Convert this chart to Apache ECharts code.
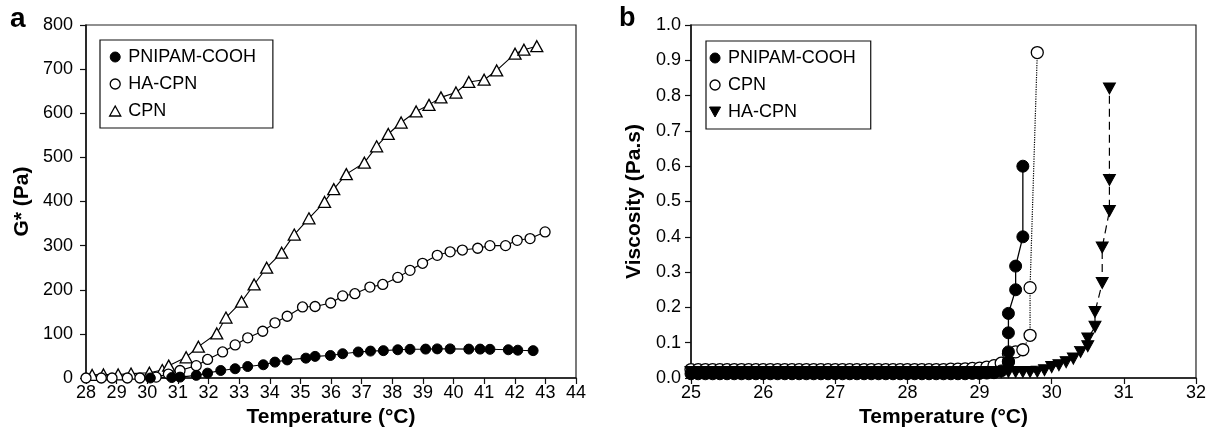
<!DOCTYPE html>
<html>
<head>
<meta charset="utf-8">
<script src="https://cdn.jsdelivr.net/npm/echarts@6/dist/echarts.min.js"></script>
<style>
  html, body { margin: 0; padding: 0; background: #fff; }
  #chart { width: 1209px; height: 438px; }
</style>
</head>
<body>
<div id="chart"></div>
<script>
// ---- panel a : G* vs temperature ----
var pnipamA_T = [30.1, 30.8, 31.07, 31.6, 31.97, 32.4, 32.87, 33.28, 33.79, 34.17, 34.57, 35.18, 35.48, 35.98, 36.38, 36.89, 37.29, 37.71, 38.18, 38.58, 39.09, 39.47, 39.89, 40.5, 40.87, 41.19, 41.79, 42.1, 42.6];
var pnipamA_G = [0, 1, 2, 6, 11, 17, 21, 26, 30, 36, 41, 45, 49, 51, 55, 59, 61, 62, 64, 65, 65.5, 66, 66, 65.5, 65.5, 65, 64, 63, 62];

var haA_T = [28.0, 28.5, 28.85, 29.35, 29.76, 30.29, 30.69, 31.07, 31.6, 31.97, 32.46, 32.87, 33.28, 33.77, 34.17, 34.57, 35.07, 35.48, 35.99, 36.38, 36.78, 37.27, 37.69, 38.18, 38.58, 38.99, 39.47, 39.89, 40.29, 40.79, 41.19, 41.7, 42.08, 42.5, 42.99];
var haA_G = [0, 0, 0, 0, 0, 2, 9, 17, 28, 42, 59, 75, 91, 106, 125, 140, 161, 162, 170, 186, 191, 206, 212, 228, 244, 260, 278, 286, 290, 294, 300, 300, 312, 316, 331];

var cpnA_T = [28.2, 28.57, 29.05, 29.47, 30.07, 30.49, 30.7, 31.27, 31.67, 32.27, 32.57, 33.08, 33.49, 33.9, 34.39, 34.8, 35.28, 35.79, 36.09, 36.5, 37.09, 37.49, 37.87, 38.29, 38.78, 39.2, 39.59, 40.08, 40.5, 41.0, 41.41, 42.01, 42.3, 42.72];
var cpnA_G = [7, 8, 8, 10, 12, 18, 28, 47, 71, 101, 137, 173, 212, 250, 284, 325, 362, 399, 428, 462, 488, 525, 553, 579, 604, 619, 636, 647, 671, 676, 697, 735, 744, 752];

// ---- panel b : viscosity vs temperature ----
var pnipamB_T = [25.0, 25.1, 25.2, 25.3, 25.4, 25.5, 25.6, 25.7, 25.8, 25.9,
                 26.0, 26.1, 26.2, 26.3, 26.4, 26.5, 26.6, 26.7, 26.8, 26.9,
                 27.0, 27.1, 27.2, 27.3, 27.4, 27.5, 27.6, 27.7, 27.8, 27.9,
                 28.0, 28.1, 28.2, 28.3, 28.4, 28.5, 28.6, 28.7, 28.8, 28.9,
                 29.0, 29.1, 29.2, 29.3, 29.4, 29.4, 29.4, 29.4, 29.5, 29.5, 29.6, 29.6];
var pnipamB_V = [0.012, 0.012, 0.012, 0.012, 0.012, 0.012, 0.012, 0.012, 0.012, 0.012,
                 0.012, 0.012, 0.012, 0.012, 0.012, 0.012, 0.012, 0.012, 0.012, 0.012,
                 0.012, 0.012, 0.012, 0.012, 0.012, 0.012, 0.012, 0.012, 0.012, 0.012,
                 0.012, 0.012, 0.012, 0.012, 0.012, 0.012, 0.012, 0.012, 0.012, 0.013,
                 0.013, 0.014, 0.015, 0.02, 0.045, 0.074, 0.128, 0.183, 0.25, 0.317, 0.40, 0.60];

var cpnB_T = [25.0, 25.1, 25.2, 25.3, 25.4, 25.5, 25.6, 25.7, 25.8, 25.9,
              26.0, 26.1, 26.2, 26.3, 26.4, 26.5, 26.6, 26.7, 26.8, 26.9,
              27.0, 27.1, 27.2, 27.3, 27.4, 27.5, 27.6, 27.7, 27.8, 27.9,
              28.0, 28.1, 28.2, 28.3, 28.4, 28.5, 28.6, 28.7, 28.8, 28.9,
              29.0, 29.1, 29.2, 29.3, 29.4, 29.4, 29.5, 29.6, 29.7, 29.7, 29.8];
var cpnB_V = [0.024, 0.024, 0.024, 0.024, 0.024, 0.024, 0.024, 0.024, 0.024, 0.024,
              0.024, 0.024, 0.024, 0.024, 0.024, 0.024, 0.024, 0.024, 0.024, 0.024,
              0.024, 0.024, 0.024, 0.024, 0.024, 0.024, 0.024, 0.024, 0.024, 0.024,
              0.024, 0.024, 0.024, 0.024, 0.024, 0.024, 0.025, 0.025, 0.026, 0.027,
              0.028, 0.031, 0.035, 0.042, 0.047, 0.069, 0.074, 0.080, 0.121, 0.256, 0.922];

var haB_T = [25.0, 25.1, 25.2, 25.3, 25.4, 25.5, 25.6, 25.7, 25.8, 25.9,
             26.0, 26.1, 26.2, 26.3, 26.4, 26.5, 26.6, 26.7, 26.8, 26.9,
             27.0, 27.1, 27.2, 27.3, 27.4, 27.5, 27.6, 27.7, 27.8, 27.9,
             28.0, 28.1, 28.2, 28.3, 28.4, 28.5, 28.6, 28.7, 28.8, 28.9,
             29.0, 29.1, 29.2, 29.3, 29.4, 29.5, 29.6, 29.7, 29.8, 29.9,
             30.0, 30.1, 30.2, 30.3, 30.4, 30.5, 30.5, 30.6, 30.6, 30.7, 30.7, 30.8, 30.8, 30.8];
var haB_V = [0.017, 0.017, 0.017, 0.017, 0.017, 0.017, 0.017, 0.017, 0.017, 0.017,
             0.017, 0.017, 0.017, 0.017, 0.017, 0.017, 0.017, 0.017, 0.017, 0.017,
             0.017, 0.017, 0.017, 0.017, 0.017, 0.017, 0.017, 0.017, 0.017, 0.017,
             0.017, 0.017, 0.017, 0.017, 0.017, 0.017, 0.017, 0.017, 0.017, 0.017,
             0.017, 0.017, 0.017, 0.017, 0.017, 0.017, 0.017, 0.017, 0.018, 0.022,
             0.031, 0.036, 0.045, 0.055, 0.074, 0.09, 0.112, 0.145, 0.187, 0.269, 0.37, 0.473, 0.561, 0.82];

var FONT = 'Liberation Sans, Arial, sans-serif';
var TRI_UP = 'path://M5,0 L10,9 L0,9 Z';
var TRI_DOWN = 'path://M0,0 L10,0 L5,9 Z';

function zip(xs, ys) {
    var out = [];
    for (var i = 0; i < xs.length; i++) {
        out.push([xs[i], ys[i]]);
    }
    return out;
}

function xAxisOf(grid, min, max, labelMargin) {
    return {
        type: 'value', gridIndex: grid, min: min, max: max, interval: 1,
        name: 'Temperature (°C)', nameLocation: 'middle', nameGap: 17,
        nameTextStyle: { fontFamily: FONT, fontSize: 21, fontWeight: 'bold', color: '#000' },
        axisLine: { onZero: false, lineStyle: { color: '#111', width: 1.5 } },
        axisTick: { inside: false, length: 6, lineStyle: { color: '#111', width: 1.2 } },
        axisLabel: { margin: labelMargin, fontFamily: FONT, fontSize: 18, color: '#000' },
        splitLine: { show: false }
    };
}

function yAxisOf(grid, max, interval, title, gap, labelMargin, fmt) {
    return {
        type: 'value', gridIndex: grid, min: 0, max: max, interval: interval,
        name: title, nameLocation: 'middle', nameGap: gap, nameRotate: 90,
        nameTextStyle: { fontFamily: FONT, fontSize: 21, fontWeight: 'bold', color: '#000' },
        axisLine: { show: true, onZero: false, lineStyle: { color: '#111', width: 1.5 } },
        axisTick: { show: true, inside: false, length: 6, lineStyle: { color: '#111', width: 1.2 } },
        axisLabel: { margin: labelMargin, fontFamily: FONT, fontSize: 18, color: '#000', formatter: fmt },
        splitLine: { show: false }
    };
}

function legendOf(left, top, pad, items) {
    return {
        left: left, top: top, orient: 'vertical', padding: pad,
        itemGap: 9, itemWidth: 16, itemHeight: 10,
        borderColor: '#111', borderWidth: 1.2, backgroundColor: '#fff',
        selectedMode: false, symbolRotate: 0,
        textStyle: { fontFamily: FONT, fontSize: 18, lineHeight: 18, color: '#000' },
        data: items
    };
}

var filled = { color: '#000', borderColor: '#000', borderWidth: 1 };
var open = { color: '#fff', borderColor: '#000', borderWidth: 1.3 };

var chart = echarts.init(document.getElementById('chart'), null, { renderer: 'canvas' });

chart.setOption({
    animation: false,
    backgroundColor: '#fff',
    title: [
        { text: 'a', left: 10, top: 5, padding: 0, textStyle: { fontFamily: FONT, fontSize: 28, fontWeight: 'bold', color: '#000' } },
        { text: 'b', left: 619, top: 5, padding: 0, textStyle: { fontFamily: FONT, fontSize: 27, fontWeight: 'bold', color: '#000' } }
    ],
    grid: [
        { left: 86, top: 25, width: 490, height: 353, show: true, borderColor: '#222', borderWidth: 1.2 },
        { left: 691, top: 25, width: 508, height: 353, show: true, borderColor: '#222', borderWidth: 1.2 }
    ],
    xAxis: [xAxisOf(0, 28, 44, 6), xAxisOf(1, 25, 32, 6)],
    yAxis: [
        yAxisOf(0, 800, 100, 'G* (Pa)', 53, 13, null),
        yAxisOf(1, 1.0, 0.1, 'Viscosity (Pa.s)', 46, 10, function (v) { return v.toFixed(1); })
    ],
    legend: [
        legendOf(100, 40, [8, 17, 8, 9], [
            { name: 'PNIPAM-COOH', icon: 'circle', itemStyle: filled },
            { name: 'HA-CPN', icon: 'circle', itemStyle: open },
            { name: 'CPN', icon: TRI_UP, itemStyle: open }
        ]),
        legendOf(706, 41, [8, 15, 8, 3], [
            { name: 'PNIPAM-COOH', icon: 'circle', itemStyle: filled },
            { name: 'CPN', icon: 'circle', itemStyle: open },
            { name: 'HA-CPN', icon: TRI_DOWN, itemStyle: filled }
        ])
    ],
    series: [
        // panel a
        {
            name: 'CPN', type: 'line', xAxisIndex: 0, yAxisIndex: 0,
            data: zip(cpnA_T, cpnA_G), symbol: TRI_UP, symbolSize: [12, 11],
            itemStyle: open, lineStyle: { color: '#000', width: 1.1 }
        },
        {
            name: 'HA-CPN', type: 'line', xAxisIndex: 0, yAxisIndex: 0,
            data: zip(haA_T, haA_G), symbol: 'circle', symbolSize: 10,
            itemStyle: open, lineStyle: { color: '#000', width: 1.1 }
        },
        {
            name: 'PNIPAM-COOH', type: 'line', xAxisIndex: 0, yAxisIndex: 0,
            data: zip(pnipamA_T, pnipamA_G), symbol: 'circle', symbolSize: 10,
            itemStyle: filled, lineStyle: { color: '#000', width: 1.1 }
        },
        // panel b
        {
            name: 'CPN', type: 'line', xAxisIndex: 1, yAxisIndex: 1,
            data: zip(cpnB_T, cpnB_V), symbol: 'circle', symbolSize: 12,
            itemStyle: open, lineStyle: { color: '#000', width: 1.2, type: 'dotted' }
        },
        {
            name: 'HA-CPN', type: 'line', xAxisIndex: 1, yAxisIndex: 1,
            data: zip(haB_T, haB_V), symbol: TRI_DOWN, symbolSize: [12, 11],
            itemStyle: filled, lineStyle: { color: '#000', width: 1.2, type: [8, 5] }
        },
        {
            name: 'PNIPAM-COOH', type: 'line', xAxisIndex: 1, yAxisIndex: 1,
            data: zip(pnipamB_T, pnipamB_V), symbol: 'circle', symbolSize: 12,
            itemStyle: filled, lineStyle: { color: '#000', width: 1.3 }
        }
    ]
});
</script>
</body>
</html>
